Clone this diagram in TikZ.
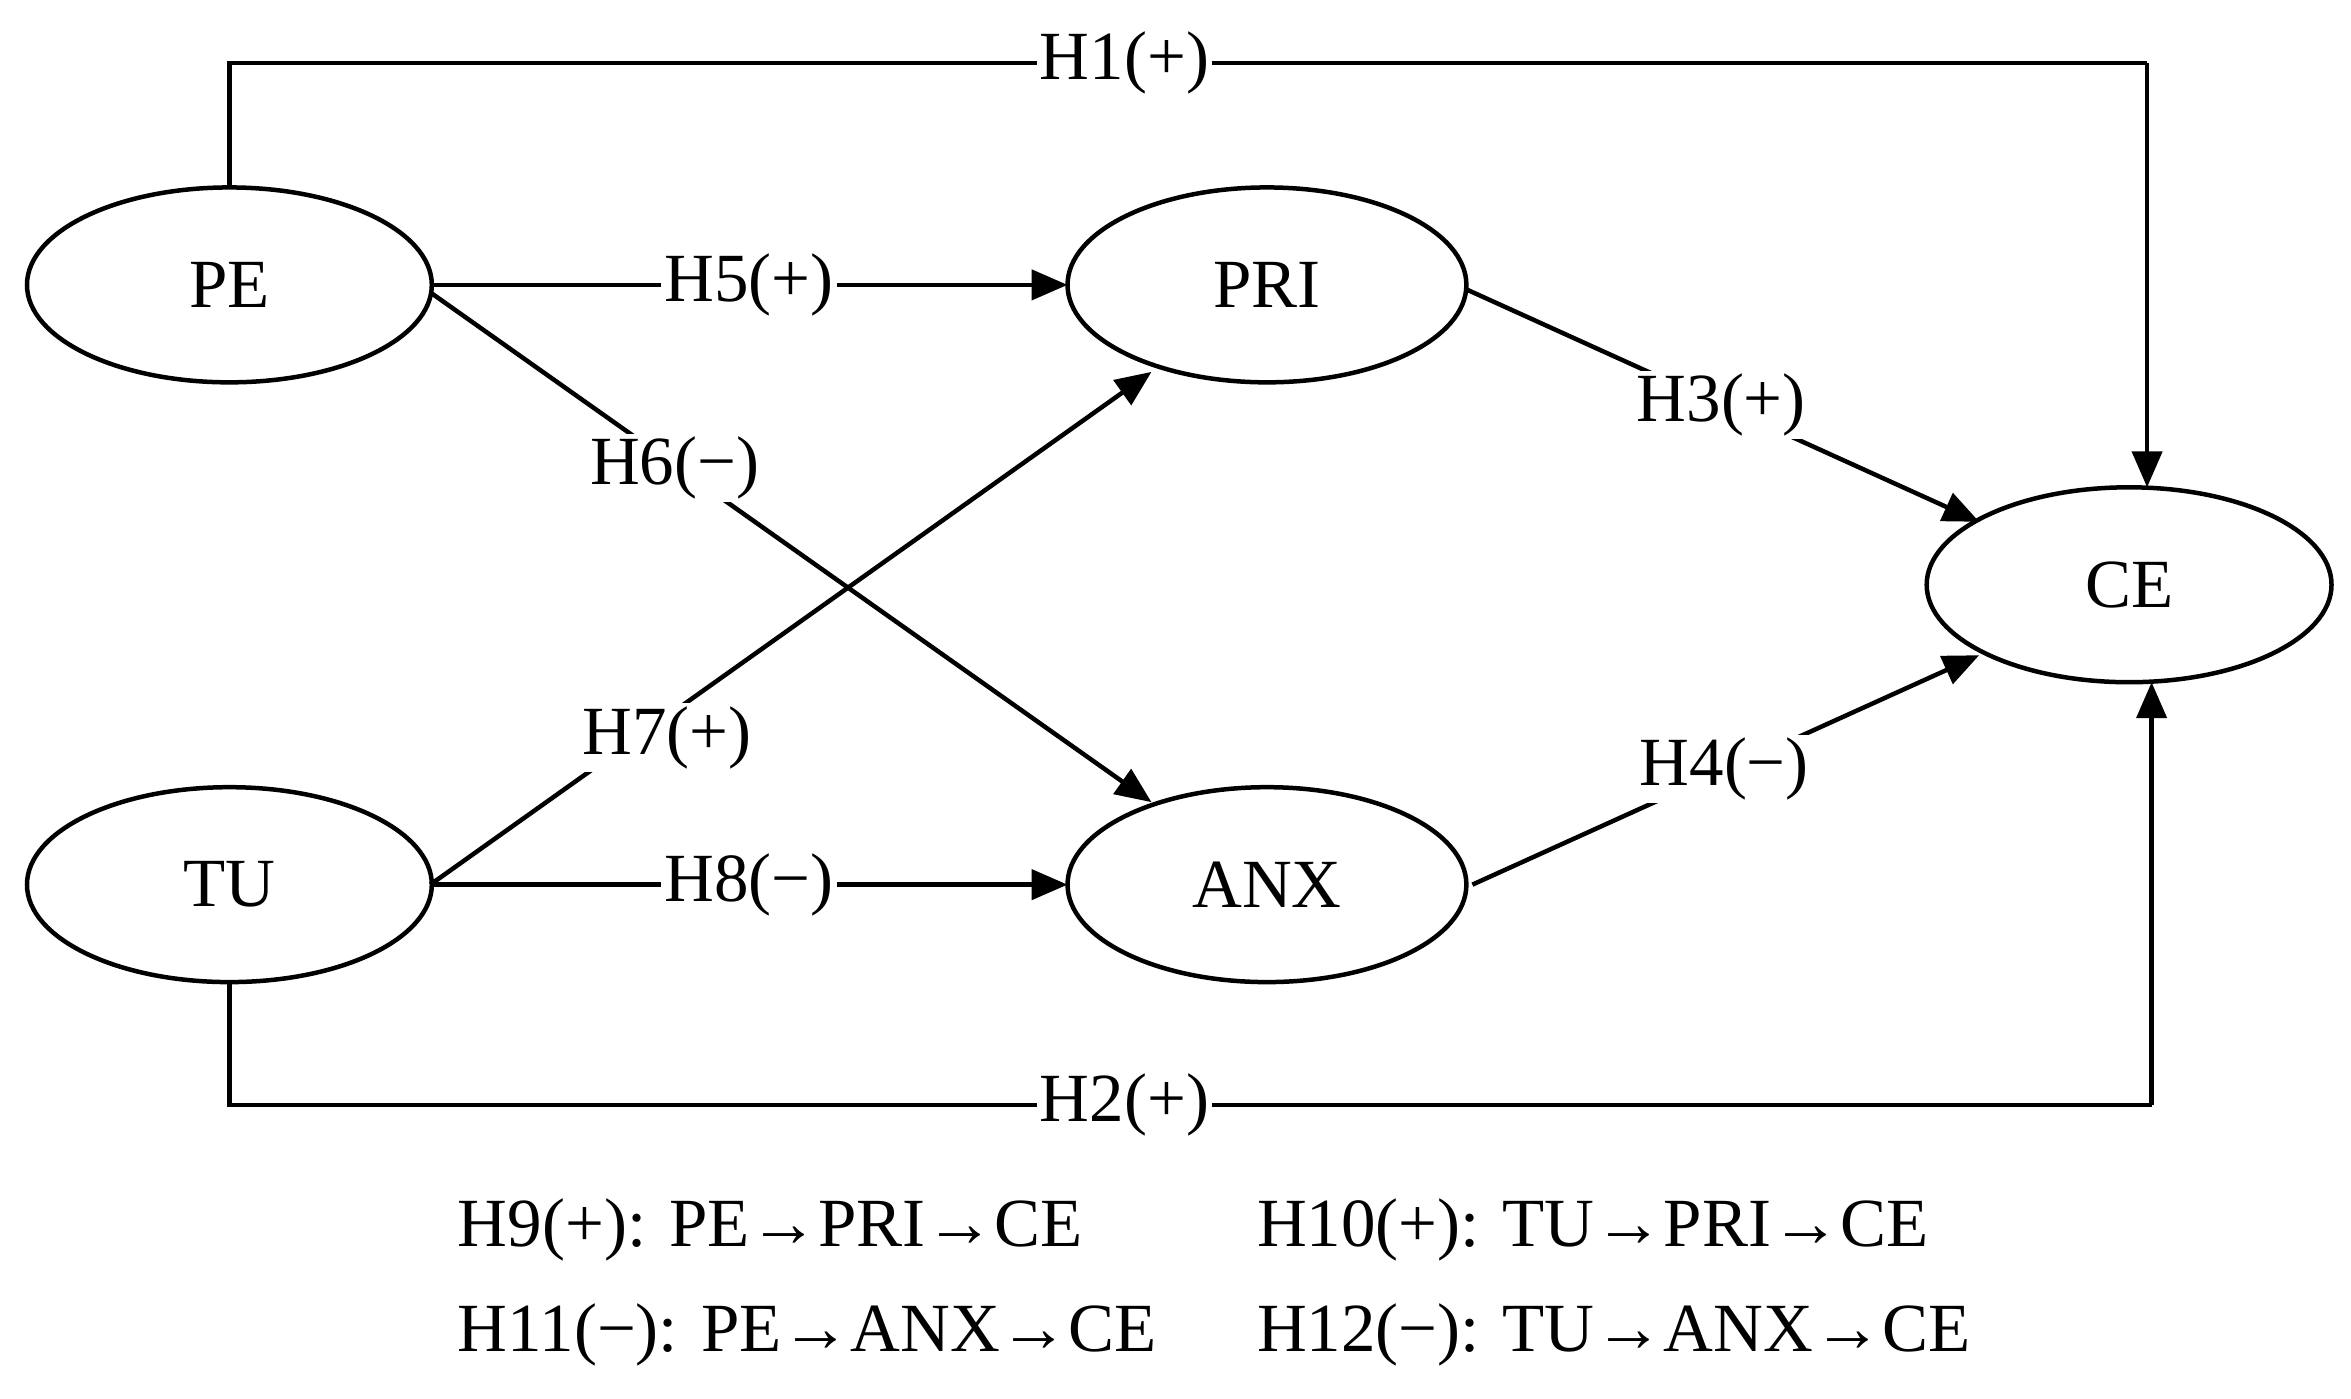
\documentclass[tikz,border=0pt]{standalone}
\usepackage{fontspec}
\setmainfont{Liberation Serif}
\usetikzlibrary{arrows.meta,shapes.geometric}
\begin{document}
\begin{tikzpicture}[x=0.5pt,y=-0.5pt,
  lat/.style={draw,line width=1.5pt,ellipse,inner sep=0pt,font=\fontsize{23}{27}\selectfont},
  ln/.style={line width=1.5pt},
  arr/.style={line width=1.5pt,-{Triangle[length=12pt,width=10pt]}},
  lab/.style={fill=white,inner sep=1pt,font=\fontsize{23}{27}\selectfont},
  txt/.style={anchor=west,inner sep=0pt,font=\fontsize{23}{27}\selectfont}]
\useasboundingbox (0,0) rectangle (1568,933);
\node[lat,minimum width=135pt,minimum height=65pt] (PE) at (153,190) {PE};
\node[lat,minimum width=135pt,minimum height=65pt] (TU) at (153,590) {TU};
\node[lat,minimum width=133pt,minimum height=65pt] (PRI) at (845,190) {PRI};
\node[lat,minimum width=133pt,minimum height=65pt] (ANX) at (845,590) {ANX};
\node[lat,minimum width=135pt,minimum height=65pt] (CE) at (1420,390) {CE};
\coordinate (a1) at (153,42); \coordinate (a2) at (1432,42); \coordinate (a3) at (1432,325);
\draw[ln] (PE.north) -- (a1) -- (a2);
\draw[arr] (a2) -- (a3);
\node[lab] at (750,42) {H1(+)};
\coordinate (b1) at (153,737); \coordinate (b2) at (1435,737); \coordinate (b3) at (1435,455);
\draw[ln] (TU.south) -- (b1) -- (b2);
\draw[arr] (b2) -- (b3);
\node[lab] at (750,737) {H2(+)};
\coordinate (p5) at (287,190); \coordinate (q5) at (712,190);
\draw[arr] (p5) -- node[lab]{H5(+)} (q5);
\coordinate (p6) at (287,195); \coordinate (q6) at (768,535);
\draw[arr] (p6) -- (q6);
\node[lab] at (450,312) {H6(−)};
\coordinate (p7) at (287,590); \coordinate (q7) at (768,248);
\draw[arr] (p7) -- (q7);
\node[lab] at (445,492) {H7(+)};
\coordinate (q8) at (712,590);
\draw[arr] (p7) -- node[lab]{H8(−)} (q8);
\coordinate (p3) at (978,193); \coordinate (q3) at (1320,348);
\draw[arr] (p3) -- (q3);
\node[lab] at (1148,270) {H3(+)};
\coordinate (p4) at (982,590); \coordinate (q4) at (1320,437);
\draw[arr] (p4) -- (q4);
\node[lab] at (1150,513) {H4(−)};
\node[txt] (t1) at (305,820) {H9(+): PE→PRI→CE};
\node[txt] (t2) at (838,820) {H10(+): TU→PRI→CE};
\node[txt] (t3) at (305,890) {H11(−): PE→ANX→CE};
\node[txt] (t4) at (838,890) {H12(−): TU→ANX→CE};
\end{tikzpicture}
\end{document}
